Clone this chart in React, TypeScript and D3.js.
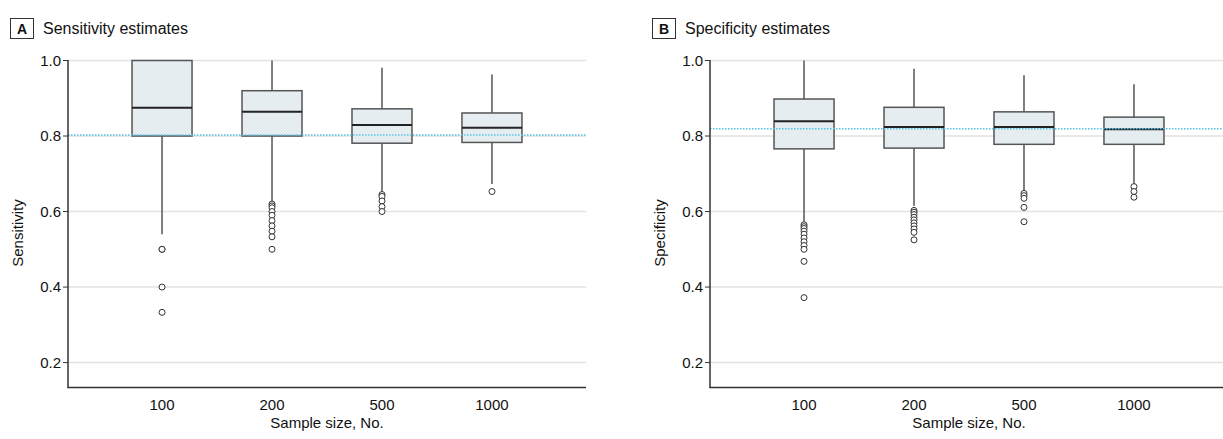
import React from "react";
import * as d3 from "d3";

// Sample sizes (x categories)
const sampleSizes = ["100", "200", "500", "1000"];
const yTicks = [0.2, 0.4, 0.6, 0.8, 1.0];

// Panel A: sensitivity estimates
const sensWhiskerHigh = [1.0, 1.0, 0.981, 0.963];
const sensQ3 = [1.0, 0.92, 0.872, 0.861];
const sensMedian = [0.875, 0.864, 0.829, 0.822];
const sensQ1 = [0.8, 0.8, 0.781, 0.783];
const sensWhiskerLow = [0.54, 0.626, 0.648, 0.673];
const sensOutliers = [
  [0.5, 0.5, 0.4, 0.333],
  [0.62, 0.615, 0.61, 0.6, 0.59, 0.576, 0.562, 0.548, 0.533, 0.5],
  [0.645, 0.64, 0.628, 0.613, 0.6],
  [0.653],
];
const sensReference = 0.803;

// Panel B: specificity estimates
const specWhiskerHigh = [1.0, 0.978, 0.961, 0.937];
const specQ3 = [0.898, 0.876, 0.864, 0.85];
const specMedian = [0.839, 0.824, 0.824, 0.818];
const specQ1 = [0.766, 0.768, 0.778, 0.778];
const specWhiskerLow = [0.57, 0.615, 0.652, 0.672];
const specOutliers = [
  [0.565, 0.56, 0.555, 0.548, 0.54, 0.53, 0.52, 0.51, 0.5, 0.468, 0.372],
  [0.603, 0.598, 0.592, 0.585, 0.578, 0.57, 0.562, 0.554, 0.545, 0.525],
  [0.648, 0.642, 0.635, 0.611, 0.573],
  [0.666, 0.653, 0.638],
];
const specReference = 0.819;

const FONT = "'Liberation Sans', Arial, sans-serif";

type PanelProps = {
  dx: number;
  letter: string;
  title: string;
  yLabel: string;
  whiskerHigh: number[];
  q3: number[];
  median: number[];
  q1: number[];
  whiskerLow: number[];
  outliers: number[][];
  reference: number;
};

function Panel(p: PanelProps) {
  const left = 68;
  const right = 586;
  const top = 60.5;
  const bottom = 387.5;
  const y = d3.scaleLinear().domain([0.134, 1.0]).range([bottom, top]);
  const x = d3.scalePoint<string>().domain(sampleSizes).range([left, right]).padding(0.855);
  const boxW = 60;

  return (
    <g transform={`translate(${p.dx},0)`}>
      {/* panel label */}
      <rect x={10.5} y={18.5} width={23} height={20} fill="white" stroke="#333" strokeWidth={1} />
      <text x={22} y={33.5} textAnchor="middle" fontFamily={FONT} fontWeight="bold" fontSize={14} fill="#111">
        {p.letter}
      </text>
      <text x={43} y={33.5} fontFamily={FONT} fontSize={16} fill="#111">
        {p.title}
      </text>

      {/* gridlines */}
      {yTicks.map((t) => (
        <line key={t} x1={left} x2={right} y1={y(t)} y2={y(t)} stroke="#e2e2e2" strokeWidth={1.5} />
      ))}

      {/* boxes */}
      {sampleSizes.map((s, i) => {
        const cx = x(s)!;
        return (
          <g key={s}>
            <line x1={cx} x2={cx} y1={y(p.q3[i])} y2={y(p.whiskerHigh[i])} stroke="#555" strokeWidth={1.5} />
            <line x1={cx} x2={cx} y1={y(p.q1[i])} y2={y(p.whiskerLow[i])} stroke="#555" strokeWidth={1.5} />
            <rect
              x={cx - boxW / 2}
              y={y(p.q3[i])}
              width={boxW}
              height={y(p.q1[i]) - y(p.q3[i])}
              fill="#e5edf1"
              stroke="#555"
              strokeWidth={1.5}
            />
            <line x1={cx - boxW / 2} x2={cx + boxW / 2} y1={y(p.median[i])} y2={y(p.median[i])} stroke="#222" strokeWidth={2} />
            {p.outliers[i].map((o, j) => (
              <circle key={j} cx={cx} cy={y(o)} r={3} fill="white" stroke="#333" strokeWidth={1} />
            ))}
          </g>
        );
      })}

      {/* reference line */}
      <line
        x1={left}
        x2={right}
        y1={y(p.reference)}
        y2={y(p.reference)}
        stroke="#55c3ea"
        strokeWidth={1.5}
        strokeDasharray="1.5,1.5"
      />

      {/* axes */}
      <line x1={left} x2={left} y1={top - 0.5} y2={bottom} stroke="#333" strokeWidth={1.5} />
      <line x1={left - 0.75} x2={right} y1={bottom} y2={bottom} stroke="#333" strokeWidth={1.5} />
      {yTicks.map((t) => (
        <g key={t}>
          <line x1={left - 5} x2={left} y1={y(t)} y2={y(t)} stroke="#333" strokeWidth={1} />
          <text
            x={left - 7}
            y={y(t)}
            dy="0.35em"
            textAnchor="end"
            fontFamily={FONT}
            fontSize={15}
            fill="#111"
          >
            {d3.format(".1f")(t)}
          </text>
        </g>
      ))}
      {sampleSizes.map((s) => (
        <text key={s} x={x(s)} y={410} textAnchor="middle" fontFamily={FONT} fontSize={15} fill="#111">
          {s}
        </text>
      ))}
      <text x={(left + right) / 2} y={428} textAnchor="middle" fontFamily={FONT} fontSize={15} fill="#111">
        Sample size, No.
      </text>
      <text
        transform={`translate(23,233) rotate(-90)`}
        textAnchor="middle"
        fontFamily={FONT}
        fontSize={15}
        fill="#111"
      >
        {p.yLabel}
      </text>
    </g>
  );
}

export default function App() {
  return (
    <svg
      width={1223}
      height={439}
      style={{ position: "absolute", left: 0, top: 0, background: "white" }}
    >
      <Panel
        dx={0}
        letter="A"
        title="Sensitivity estimates"
        yLabel="Sensitivity"
        whiskerHigh={sensWhiskerHigh}
        q3={sensQ3}
        median={sensMedian}
        q1={sensQ1}
        whiskerLow={sensWhiskerLow}
        outliers={sensOutliers}
        reference={sensReference}
      />
      <Panel
        dx={642}
        letter="B"
        title="Specificity estimates"
        yLabel="Specificity"
        whiskerHigh={specWhiskerHigh}
        q3={specQ3}
        median={specMedian}
        q1={specQ1}
        whiskerLow={specWhiskerLow}
        outliers={specOutliers}
        reference={specReference}
      />
    </svg>
  );
}
